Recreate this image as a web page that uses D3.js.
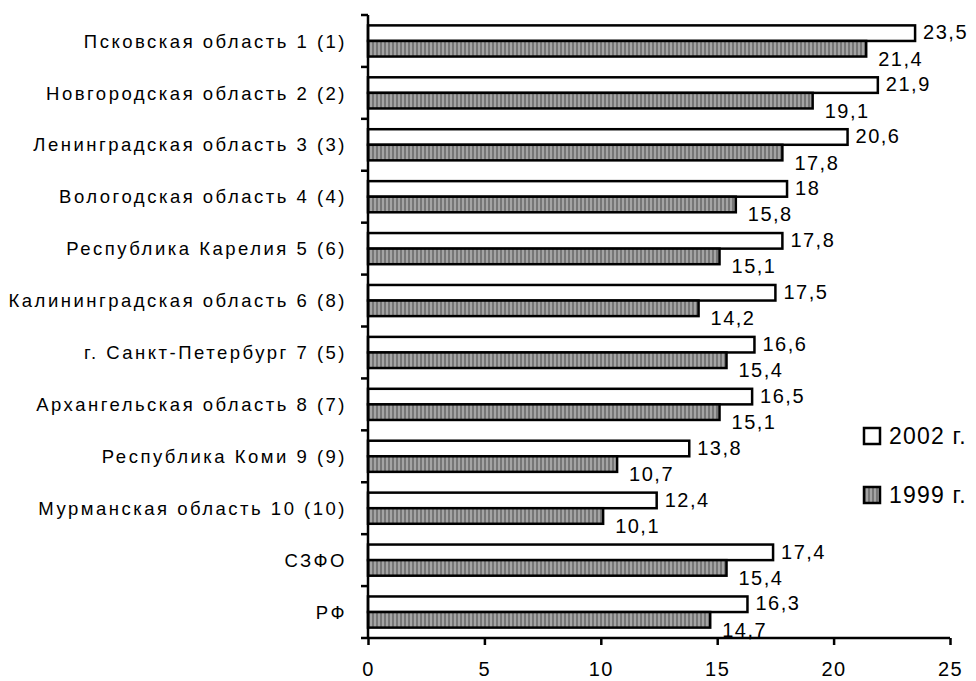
<!DOCTYPE html>
<html>
<head>
<meta charset="utf-8">
<script src="https://cdn.jsdelivr.net/npm/d3@7"></script>
<style>
  html, body { margin: 0; padding: 0; background: #fff; }
  svg { display: block; font-family: "Liberation Sans", Arial, sans-serif; }
</style>
</head>
<body>
<svg id="chart" width="976" height="681"></svg>
<script>
const categories = [
  "Псковская область 1 (1)",
  "Новгородская область 2 (2)",
  "Ленинградская область 3 (3)",
  "Вологодская область 4 (4)",
  "Республика Карелия 5 (6)",
  "Калининградская область 6 (8)",
  "г. Санкт-Петербург 7 (5)",
  "Архангельская область 8 (7)",
  "Республика Коми 9 (9)",
  "Мурманская область 10 (10)",
  "СЗФО",
  "РФ"
];
const values2002 = [23.5, 21.9, 20.6, 18, 17.8, 17.5, 16.6, 16.5, 13.8, 12.4, 17.4, 16.3];
const values1999 = [21.4, 19.1, 17.8, 15.8, 15.1, 14.2, 15.4, 15.1, 10.7, 10.1, 15.4, 14.7];
const seriesNames = ["2002 г.", "1999 г."];
const xTicks = [0, 5, 10, 15, 20, 25];

(function () {
const svg = d3.select("#chart");
const mLeft = 368, mRight = 950, mTop = 15, mBottom = 638;

const defs = svg.append("defs");
const pat = defs.append("pattern").attr("id", "stripes")
  .attr("patternUnits", "userSpaceOnUse").attr("width", 4).attr("height", 4);
pat.append("rect").attr("width", 4).attr("height", 4).attr("fill", "#767676");
pat.append("rect").attr("x", 2).attr("width", 2).attr("height", 4).attr("fill", "#a4a4a4");

const x = d3.scaleLinear().domain([0, 25]).range([mLeft, mRight]);
const y = d3.scaleBand().domain(categories).range([mTop, mBottom])
  .paddingInner(0.4).paddingOuter(0.2);
const ys = d3.scaleBand().domain(seriesNames).range([0, y.bandwidth()]);

const fmt = v => String(v).replace(".", ",");

const rows = categories.map((c, i) => ({ c, v2002: values2002[i], v1999: values1999[i] }));

const g = svg.append("g");

// bars
rows.forEach(r => {
  const y0 = y(r.c);
  g.append("rect")
    .attr("x", x(0)).attr("y", y0 + ys(seriesNames[0]))
    .attr("width", x(r.v2002) - x(0)).attr("height", ys.bandwidth())
    .attr("fill", "#fff").attr("stroke", "#000").attr("stroke-width", 2.5);
  g.append("rect")
    .attr("x", x(0)).attr("y", y0 + ys(seriesNames[1]))
    .attr("width", x(r.v1999) - x(0)).attr("height", ys.bandwidth())
    .attr("fill", "url(#stripes)").attr("stroke", "#000").attr("stroke-width", 2.5);
});

// value labels
const labelStyle = sel => sel.attr("font-size", 20).attr("letter-spacing", 1.5).attr("fill", "#000");
rows.forEach(r => {
  const y0 = y(r.c);
  g.append("text").call(labelStyle)
    .attr("x", x(r.v2002) + 8)
    .attr("y", y0 + ys(seriesNames[0]) + ys.bandwidth() / 2 - 1)
    .attr("dy", "0.36em")
    .text(fmt(r.v2002));
  g.append("text").call(labelStyle)
    .attr("x", x(r.v1999) + 12)
    .attr("y", y0 + ys(seriesNames[1]) + ys.bandwidth() + 2)
    .attr("dy", "0.36em")
    .text(fmt(r.v1999));
});

// y axis line and boundary ticks
const step = y.step();
g.append("line").attr("x1", mLeft).attr("x2", mLeft).attr("y1", mTop).attr("y2", mBottom)
  .attr("stroke", "#000").attr("stroke-width", 2.5);
d3.range(categories.length + 1).forEach(i => {
  const yy = mTop + i * step;
  g.append("line").attr("x1", mLeft - 7).attr("x2", mLeft).attr("y1", yy).attr("y2", yy)
    .attr("stroke", "#000").attr("stroke-width", 2.5);
});
// category labels
rows.forEach(r => {
  g.append("text")
    .attr("x", 347).attr("y", y(r.c) + y.bandwidth() / 2)
    .attr("dy", "0.36em").attr("text-anchor", "end")
    .attr("font-size", 18.5).attr("letter-spacing", 2.5)
    .attr("fill", "#000")
    .text(r.c);
});

// x axis
const xAxis = d3.axisBottom(x).tickValues(xTicks).tickSize(7).tickPadding(17)
  .tickFormat(d => String(d));
const ax = svg.append("g").attr("transform", `translate(0,${mBottom})`).call(xAxis);
ax.select(".domain").attr("stroke", "#000").attr("stroke-width", 2.5)
  .attr("d", `M${mLeft},0H${mRight}`);
ax.selectAll(".tick line").attr("stroke", "#000").attr("stroke-width", 2.5);
ax.selectAll(".tick text").attr("font-size", 20).attr("letter-spacing", 1.5)
  .attr("fill", "#000").attr("font-family", "Liberation Sans, Arial, sans-serif");

// legend
const legendY = [436, 495];
const legend = svg.append("g");
seriesNames.forEach((name, i) => {
  legend.append("rect")
    .attr("x", 864).attr("y", legendY[i] - 8).attr("width", 16).attr("height", 16)
    .attr("fill", i === 0 ? "#fff" : "url(#stripes)")
    .attr("stroke", "#000").attr("stroke-width", 2.5);
  legend.append("text")
    .attr("x", 889).attr("y", legendY[i]).attr("dy", "0.36em")
    .attr("font-size", 23).attr("letter-spacing", 1.2).attr("fill", "#000")
    .text(name);
});
})();
</script>
</body>
</html>
